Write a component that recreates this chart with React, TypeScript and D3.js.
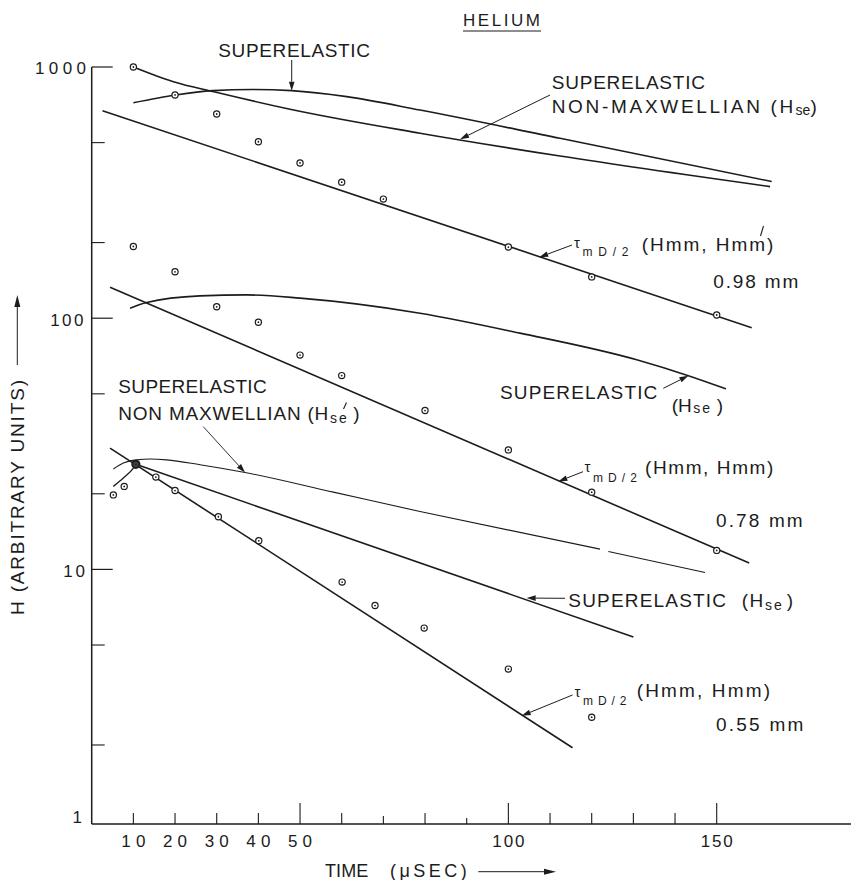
import React from "react";
import * as d3 from "d3";

// ---------- axis ticks ----------
const xTickValues = [10, 20, 30, 40, 50, 60, 70, 80, 90, 100, 110, 120, 130, 140, 150];
const xLongTicks = [50, 100, 150];
const xTickLabels = [10, 20, 30, 40, 50, 100, 150];
const yMajorTicks = [1, 10, 100, 1000];
const yMinorTicks = [2, 5, 20, 50, 200, 500];

// ---------- 0.98 mm ----------
const t098Points = [10, 20, 30, 40, 50, 60, 70, 100, 120, 150];
const h098Points = [1000, 774, 650, 504, 415, 348, 298, 192, 146, 103];
const t098Tau = [2.6, 158.4];
const h098Tau = [670, 91.7];
const t098Se = [10, 20.2, 29.1, 38.5, 48, 61.2, 78.8, 112.4, 163.2];
const h098Se = [721, 774, 805, 814, 805, 762, 674, 520, 350];
const t098NonMax = [10, 19.6, 29.6, 47.6, 78.8, 112.4, 162.8];
const h098NonMax = [1000, 874, 795, 679, 545, 442, 334];

// ---------- 0.78 mm ----------
const t078Points = [10, 20, 30, 40, 50, 60, 80, 100, 120, 150];
const h078Points = [193, 153, 111, 96.4, 71.3, 59.1, 42.9, 29.9, 20.3, 11.9];
const t078Tau = [4.4, 157.8];
const h078Tau = [132.9, 10.6];
const t078Se = [9.2, 13.2, 26, 37.2, 50, 78.8, 102.8, 130.8, 143.2, 152.2];
const h078Se = [109.6, 115.4, 122.7, 123.8, 120.2, 104.7, 87.2, 68.3, 59, 52.3];

// ---------- 0.55 mm ----------
const t055Points = [5.2, 7.8, 10.6, 15.4, 20, 30.4, 40.1, 60.1, 68, 79.8, 100, 120];
const h055Points = [19.8, 21.4, 26.2, 23.3, 20.6, 16.2, 13.0, 8.9, 7.18, 5.84, 4.01, 2.58];
const t055Tau = [4.4, 115.4];
const h055Tau = [30.4, 1.95];
const t055SeRise = [5.2, 7.6, 10, 10.6];
const h055SeRise = [21.4, 23.1, 25.3, 26.2];
const t055Se = [10.6, 130];
const h055Se = [26.2, 5.38];
const t055NonMaxA = [5.2, 7.6, 10.8, 14, 18, 26, 36.8, 58, 78.8, 122];
const h055NonMaxA = [25.1, 26.5, 27.3, 27.5, 27.3, 26.1, 24.3, 20.3, 17.0, 12.04];
const t055NonMaxB = [124, 147.2];
const h055NonMaxB = [11.78, 9.72];
const boldPointT = 10.6;

const FONT = "'Liberation Sans', Arial, sans-serif";
const INK = "#1c1c1c";

const x = d3.scaleLinear().domain([0, 150]).range([91.7, 716.7]);
const y = d3.scaleLog().domain([1, 1000]).range([820.6, 67]);
const AXIS_Y = 824;
const AXIS_X = x(0);

type P = [number, number];
const zip = (t: number[], h: number[]): P[] => t.map((v, i) => [v, h[i]] as P);
const curve = d3.line<P>().x((d) => x(d[0])).y((d) => y(d[1])).curve(d3.curveMonotoneX);
const straight = d3.line<P>().x((d) => x(d[0])).y((d) => y(d[1]));

function Label({ x: lx, y: ly, len, size = 19, anchor = "start", children }: any) {
  return (
    <text
      x={lx}
      y={ly}
      fontSize={size}
      textLength={len}
      lengthAdjust={len ? "spacing" : undefined}
      textAnchor={anchor}
      fill={INK}
      fontFamily={FONT}
    >
      {children}
    </text>
  );
}

function Arrow({ x1, y1, x2, y2, head = 9, half = 2.8, sw = 1 }: any) {
  const dx = x2 - x1, dy = y2 - y1;
  const L = Math.hypot(dx, dy);
  const ux = dx / L, uy = dy / L;
  const bx = x2 - ux * head, by = y2 - uy * head;
  const px = -uy, py = ux;
  return (
    <g>
      <line x1={x1} y1={y1} x2={bx} y2={by} stroke={INK} strokeWidth={sw} />
      <path
        d={`M${x2},${y2}L${bx + px * half},${by + py * half}L${bx - px * half},${by - py * half}Z`}
        fill={INK}
      />
    </g>
  );
}

function Points({ t, h }: { t: number[]; h: number[] }) {
  return (
    <g>
      {t.map((tv, i) => {
        const bold = tv === boldPointT && h === h055Points;
        return (
          <g key={i}>
            <circle
              cx={x(tv)}
              cy={y(h[i])}
              r={bold ? 3.6 : 3.1}
              fill={bold ? "#444" : "#fff"}
              stroke={INK}
              strokeWidth={bold ? 2 : 1.2}
            />
            <circle cx={x(tv)} cy={y(h[i])} r={0.9} fill={INK} />
          </g>
        );
      })}
    </g>
  );
}

function Sub({ x: sx, y: sy, len, children }: any) {
  return <Label x={sx} y={sy} len={len} size={14}>{children}</Label>;
}

export default function App() {
  const lineStyle = { fill: "none", stroke: INK, strokeWidth: 1.6 };
  return (
    <svg
      width={851}
      height={880}
      style={{ position: "absolute", left: 0, top: 0, background: "#fff" }}
    >
      <rect x={0} y={0} width={851} height={880} fill="#fff" />

      {/* axes */}
      <line x1={AXIS_X} y1={y(1000)} x2={AXIS_X} y2={AXIS_Y} stroke={INK} strokeWidth={1.5} />
      <line x1={AXIS_X} y1={AXIS_Y} x2={851} y2={AXIS_Y} stroke={INK} strokeWidth={1.5} />
      {yMajorTicks.filter((v) => v > 1).map((v) => (
        <line key={"ym" + v} x1={AXIS_X} x2={AXIS_X + 21} y1={y(v)} y2={y(v)} stroke={INK} strokeWidth={1.2} />
      ))}
      {yMinorTicks.map((v) => (
        <line key={"yn" + v} x1={AXIS_X} x2={AXIS_X + 13} y1={y(v)} y2={y(v)} stroke={INK} strokeWidth={1.1} />
      ))}
      {xTickValues.map((v) => {
        const long = xLongTicks.includes(v);
        const len = long ? 21 : v === 90 ? 6 : v === 70 ? 8 : 11;
        return (
          <line key={"xt" + v} x1={x(v)} x2={x(v)} y1={AXIS_Y} y2={AXIS_Y - len} stroke={INK} strokeWidth={1.1} />
        );
      })}

      {/* y tick labels */}
      <Label x={86} y={y(1000) + 7} len={51} size={17} anchor="end">1000</Label>
      <Label x={83.5} y={y(100) + 7.3} len={33.3} size={17} anchor="end">100</Label>
      <Label x={85} y={y(10) + 7.3} len={21.7} size={17} anchor="end">10</Label>
      <Label x={82} y={823} size={17} anchor="end">1</Label>

      {/* x tick labels */}
      {xTickLabels.map((v) => (
        <Label key={"xl" + v} x={x(v)} y={847} size={17} anchor="middle" len={v >= 100 ? 32 : 24}>
          {String(v)}
        </Label>
      ))}

      {/* axis titles */}
      <Label x={325} y={877.3} len={43.3} size={18}>TIME</Label>
      <Label x={390} y={877.3} len={76.7} size={18}>(μSEC)</Label>
      <Arrow x1={478.3} y1={871.7} x2={556} y2={871.7} head={12} half={3} sw={1} />

      <g transform="translate(24,615) rotate(-90)">
        <Label x={0} y={0} len={235} size={19}>H (ARBITRARY UNITS)</Label>
      </g>
      <Arrow x1={17.3} y1={365} x2={17.3} y2={295} head={12} half={3} sw={1} />

      {/* title */}
      <Label x={463} y={26} len={77} size={17}>HELIUM</Label>
      <line x1={463} y1={31} x2={541} y2={31} stroke={INK} strokeWidth={1.2} />

      {/* ---- curves ---- */}
      <path d={straight(zip(t098Tau, h098Tau)) || ""} style={lineStyle} />
      <path d={curve(zip(t098Se, h098Se)) || ""} style={lineStyle} />
      <path d={curve(zip(t098NonMax, h098NonMax)) || ""} style={lineStyle} />

      <path d={straight(zip(t078Tau, h078Tau)) || ""} style={lineStyle} />
      <path d={curve(zip(t078Se, h078Se)) || ""} style={lineStyle} />

      <path d={straight(zip(t055Tau, h055Tau)) || ""} style={lineStyle} />
      <path d={curve(zip(t055SeRise, h055SeRise)) || ""} style={{ ...lineStyle, strokeWidth: 1.3 }} />
      <path d={straight(zip(t055Se, h055Se)) || ""} style={lineStyle} />
      <path d={curve(zip(t055NonMaxA, h055NonMaxA)) || ""} style={{ ...lineStyle, strokeWidth: 1.1 }} />
      <path d={straight(zip(t055NonMaxB, h055NonMaxB)) || ""} style={{ ...lineStyle, strokeWidth: 1.1 }} />

      {/* ---- points ---- */}
      <Points t={t098Points} h={h098Points} />
      <Points t={t078Points} h={h078Points} />
      <Points t={t055Points} h={h055Points} />

      {/* ---- annotations, 0.98 mm ---- */}
      <Label x={218.3} y={56.5} len={151.7}>SUPERELASTIC</Label>
      <Arrow x1={291.7} y1={60} x2={x(48)} y2={y(805)} head={9} half={2.8} />

      <Label x={551.7} y={89.3} len={153.3}>SUPERELASTIC</Label>
      <Label x={551.7} y={113.3} len={241.6}>NON-MAXWELLIAN (H</Label>
      <Sub x={795.5} y={115}>se</Sub>
      <Label x={810.5} y={113.3}>)</Label>
      <Arrow x1={550} y1={95} x2={x(88.4)} y2={y(515.6)} />

      <Label x={574} y={248.3} size={15}>τ</Label>
      <Label x={582.5} y={256} len={46} size={12}>mD/2</Label>
      <Label x={641.7} y={250.7} len={131.6}>(Hmm, Hmm)</Label>
      <line x1={763.5} y1={226} x2={760.5} y2={236} stroke={INK} strokeWidth={1.1} />
      <Label x={713.3} y={288.3} len={85}>0.98 mm</Label>
      <Arrow x1={572} y1={245} x2={x(107.4)} y2={y(174.8)} />

      {/* ---- annotations, 0.78 mm ---- */}
      <Label x={500} y={399} len={157.3}>SUPERELASTIC</Label>
      <Label x={671.7} y={411.7} len={20}>(H</Label>
      <Sub x={693.3} y={413.3} len={16.7}>se</Sub>
      <Label x={716.7} y={411.7}>)</Label>
      <Arrow x1={663.3} y1={388.3} x2={x(143.2)} y2={y(59)} />

      <Label x={584.5} y={471.7} size={15}>τ</Label>
      <Label x={593} y={481.7} len={44} size={12}>mD/2</Label>
      <Label x={645} y={474} len={128.3}>(Hmm, Hmm)</Label>
      <Label x={716} y={526.7} len={86.7}>0.78 mm</Label>
      <Arrow x1={583} y1={471.7} x2={x(112)} y2={y(22.4)} />

      {/* ---- annotations, 0.55 mm ---- */}
      <Label x={118.3} y={392.7} len={148.4}>SUPERELASTIC</Label>
      <Label x={118.3} y={420} len={210}>NON MAXWELLIAN (H</Label>
      <Sub x={330} y={423.3} len={16.7}>se</Sub>
      <line x1={346.5} y1={402.5} x2={343.5} y2={409} stroke={INK} strokeWidth={1.1} />
      <Label x={353.3} y={420}>)</Label>
      <Arrow x1={203.3} y1={426.7} x2={x(36.8)} y2={y(24.3)} sw={0.9} />

      <Label x={568.3} y={606.7} len={157.7}>SUPERELASTIC</Label>
      <Label x={741.7} y={606.7} len={21.6}>(H</Label>
      <Sub x={765} y={610} len={16.7}>se</Sub>
      <Label x={786.7} y={606.7}>)</Label>
      <Arrow x1={565} y1={598.3} x2={x(104.4)} y2={y(7.69)} />

      <Label x={574.5} y={696.7} size={15}>τ</Label>
      <Label x={583} y={705} len={43.5} size={12}>mD/2</Label>
      <Label x={636.7} y={697.3} len={133.3}>(Hmm, Hmm)</Label>
      <Label x={716} y={730.7} len={87.3}>0.55 mm</Label>
      <Arrow x1={572.5} y1={695} x2={x(103.2)} y2={y(2.615)} />
    </svg>
  );
}
